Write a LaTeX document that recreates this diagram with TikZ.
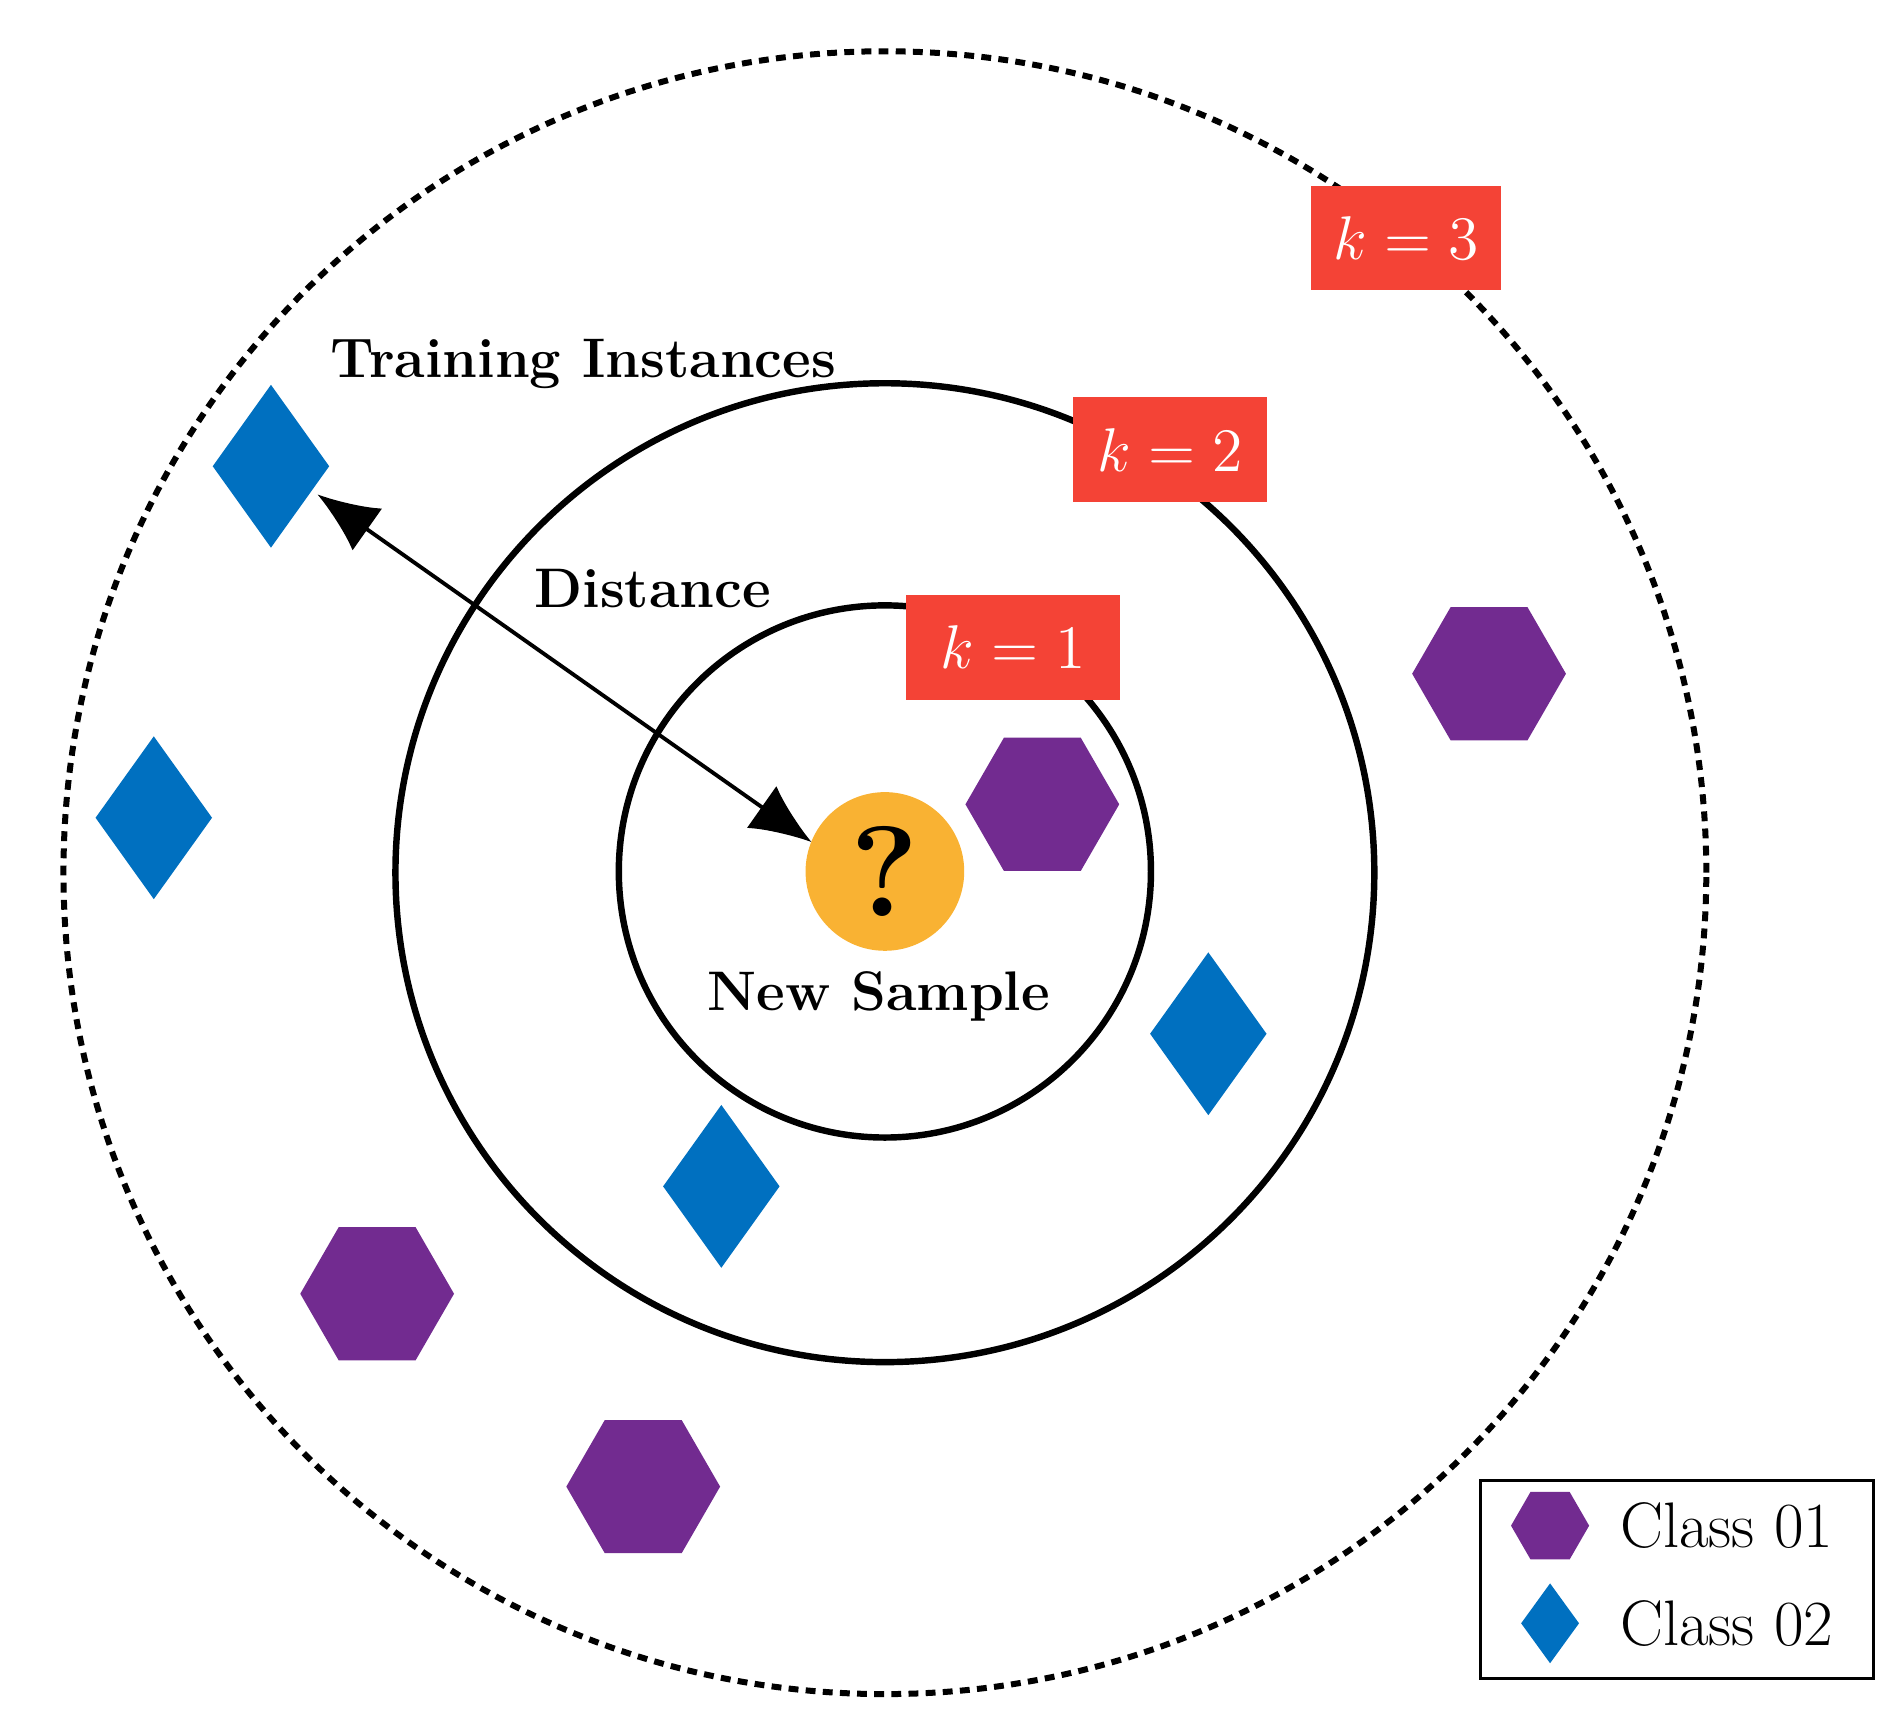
\documentclass[tikz,border=0pt]{standalone}
\usetikzlibrary{shapes.geometric,arrows.meta}
\definecolor{kred}{HTML}{F44336}
\definecolor{hpurp}{HTML}{722B90}
\definecolor{dblue}{HTML}{0070C0}
\definecolor{qorange}{HTML}{F9B233}
\tikzset{
 hex/.style={regular polygon,regular polygon sides=6,fill=hpurp,draw=none,minimum size=1.26cm,inner sep=0},
 dia/.style={diamond,fill=dblue,draw=none,minimum width=0.96cm,minimum height=1.34cm,inner sep=0},
 kbox/.style={fill=kred,text=white,inner sep=0,minimum height=0.86cm,font=\fontsize{15}{17}\selectfont},
 lbl/.style={font=\fontsize{13}{15}\selectfont\bfseries},
 ring/.style={draw=black,line width=1.5pt}
}
\begin{document}
\begin{tikzpicture}
\useasboundingbox (0,0) rectangle (15.6,-14.06);
\node[circle,draw=black,line width=1.4pt,dash pattern=on 2.3pt off 1.7pt,minimum size=13.46cm,inner sep=0] (outer) at (7.25,-7.15) {};
\node[circle,ring,minimum size=8.02cm,inner sep=0] (mid) at (7.25,-7.15) {};
\node[circle,ring,minimum size=4.36cm,inner sep=0] (inn) at (7.25,-7.14) {};
\node[kbox,minimum width=1.56cm] (k3) at (11.52,-1.95) {$k=3$};
\node[kbox,minimum width=1.59cm] (k2) at (9.585,-3.685) {$k=2$};
\node[kbox,minimum width=1.76cm] (k1) at (8.30,-5.305) {$k=1$};
\node[circle,fill=qorange,minimum size=1.30cm,inner sep=0,font=\fontsize{30}{30}\selectfont\bfseries] (q) at (7.25,-7.14) {?};
\node[hex] (h1) at (8.54,-6.59) {};
\node[hex] (h2) at (12.20,-5.52) {};
\node[hex] (h3) at (3.09,-10.60) {};
\node[hex] (h4) at (5.27,-12.18) {};
\node[dia] (d1) at (2.22,-3.82) {};
\node[dia] (d2) at (1.26,-6.70) {};
\node[dia] (d3) at (9.90,-8.47) {};
\node[dia] (d4) at (5.91,-9.72) {};
\coordinate (a1) at (2.60,-4.05);
\coordinate (a2) at (6.65,-6.90);
\draw[line width=0.9pt,{Latex[length=0.5cm,width=0.42cm]}-{Latex[length=0.5cm,width=0.42cm]}] (a1) -- (a2);
\node[lbl] (ti) at (4.78,-2.98) {Training Instances};
\node[lbl] (dist) at (5.35,-4.82) {Distance};
\node[lbl] (ns) at (7.20,-8.16) {New Sample};
\node[draw=black,line width=0.8pt,minimum width=3.22cm,minimum height=1.62cm,inner sep=0] (leg) at (13.74,-12.94) {};
\node[hex,minimum size=0.64cm] (lh) at (12.70,-12.50) {};
\node[dia,minimum width=0.48cm,minimum height=0.66cm] (ld) at (12.70,-13.30) {};
\node[anchor=west,font=\fontsize{15}{17}\selectfont] (c1) at (13.15,-12.50) {Class 01};
\node[anchor=west,font=\fontsize{15}{17}\selectfont] (c2) at (13.15,-13.30) {Class 02};
\end{tikzpicture}
\end{document}
